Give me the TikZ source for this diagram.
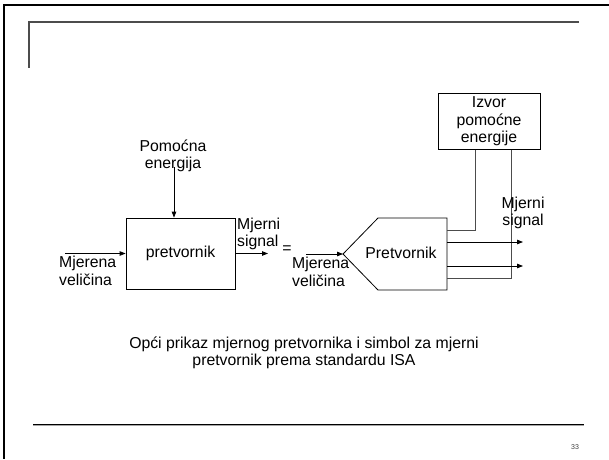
\documentclass[tikz,border=0pt]{standalone}
\usepackage{fontspec}
\setmainfont{Liberation Sans}
\usetikzlibrary{arrows.meta}
\begin{document}
\begin{tikzpicture}[x=1pt,y=-1pt,
  txt/.style={font=\fontsize{15.8}{17.5}\selectfont, inner sep=0pt, align=center},
  txtl/.style={font=\fontsize{15.8}{17.5}\selectfont, inner sep=0pt, align=left},
  wire/.style={line width=0.8pt, black},
  gwire/.style={line width=0.9pt, black!70},
  arr/.style={line width=0.8pt, black, -{Triangle[length=6pt,width=4.5pt]}},
  blockbox/.style={draw, line width=0.8pt, inner sep=0pt}
]
\useasboundingbox (0,0) rectangle (609,459);
\fill[white] (0,0) rectangle (609,459);
% slide frame
\draw[line width=2.5pt, black] (609,5) -- (4,5) -- (4,459);
\draw[line width=1.3pt, black!70] (579,22) -- (29,22) -- (29,68);
\draw[line width=1pt, black] (33,424) -- (584,424);
\draw[line width=0.6pt, black!35] (33,425.2) -- (584,425.2);
\node[font=\fontsize{7}{8}\selectfont, text=black!75, inner sep=0pt] (pnum) at (575,447) {33};

% left: general converter
\node[blockbox, minimum width=109pt, minimum height=71pt, txt] (conv) at (180.5,253.5) {pretvornik};
\node[txt] (pom) at (173,156) {Pomoćna\\energija};
\coordinate (pomtop) at (174,167);
\draw[arr] (pomtop) -- (pomtop |- conv.north);
\coordinate (inL) at (65,253.5);
\draw[arr] (inL) -- (conv.west |- inL);
\node[txtl, anchor=north west] (mjL) at (59,256) {Mjerena\\veličina};
\coordinate (outL) at (268,253.5);
\draw[arr] (conv.east |- outL) -- (outL);
\node[txtl, anchor=south west] (sigL) at (237,250) {Mjerni\\signal};
\node[txt] (eq) at (287,250) {=};

% right: ISA symbol
\coordinate (pA) at (378,218);
\coordinate (pB) at (447,218);
\coordinate (pC) at (447,290);
\coordinate (pD) at (378,290);
\coordinate (pT) at (343,254);
\draw[wire, line join=miter] (pA) -- (pB) -- (pC) -- (pD) -- (pT) -- cycle;
\node[txt] (isa) at (401,253) {Pretvornik};
\coordinate (inR) at (306,254);
\draw[arr] (inR) -- (pT);
\node[txtl, anchor=north west] (mjR) at (292,257) {Mjerena\\veličina};

\node[blockbox, minimum width=102pt, minimum height=56pt, txt] (izv) at (489,121.5) {Izvor\\pomoćne\\energije};
\coordinate (w1) at (475,230);
\coordinate (w2) at (511,278);
\draw[gwire] (izv.south -| w1) -- (w1) -- (pB |- w1);
\draw[gwire] (izv.south -| w2) -- (w2) -- (pB |- w2);
\coordinate (o1) at (523,242);
\coordinate (o2) at (523,266);
\draw[arr] (pB |- o1) -- (o1);
\draw[arr] (pB |- o2) -- (o2);
\node[txt] (sigR) at (523,213) {Mjerni\\signal};

% caption
\node[txt] (cap) at (304,353) {Opći prikaz mjernog pretvornika i simbol za mjerni\\pretvornik prema standardu ISA};
\end{tikzpicture}
\end{document}
